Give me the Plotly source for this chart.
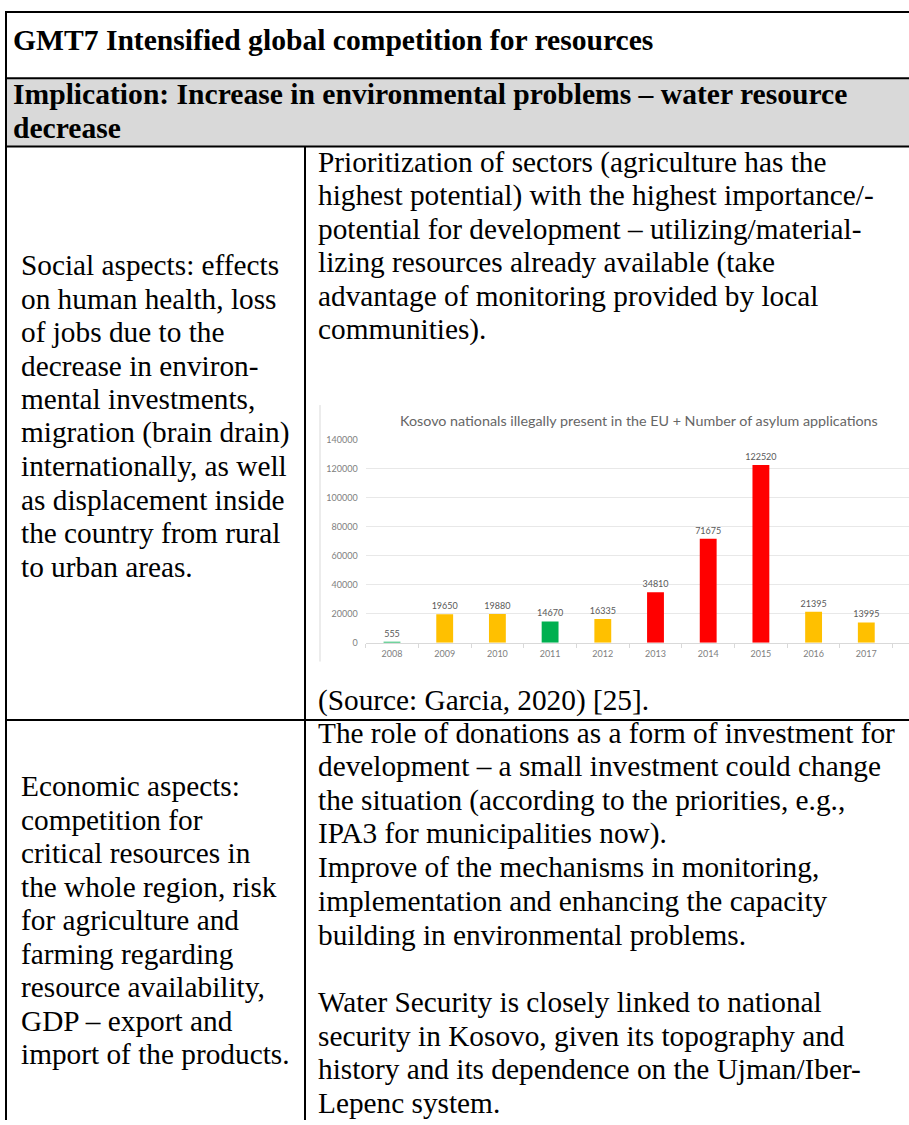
import plotly.graph_objects as go

W, H = 909, 1125

# ---- chart data -------------------------------------------------------
years = ["2008", "2009", "2010", "2011", "2012", "2013", "2014", "2015", "2016", "2017"]
persons = [555, 19650, 19880, 14670, 16335, 34810, 71675, 122520, 21395, 13995]
bar_colors = ["#00B050", "#FFC000", "#FFC000", "#00B050", "#FFC000",
              "#FF0000", "#FF0000", "#FF0000", "#FFC000", "#FFC000"]
y_ticks = [0, 20000, 40000, 60000, 80000, 100000, 120000, 140000]
chart_title = "Kosovo nationals illegally present in the EU + Number of asylum applications"

# ---- table text -------------------------------------------------------
header_title = "GMT7 Intensified global competition for resources"
implication_lines = [
    "Implication: Increase in environmental problems \u2013 water resource",
    "decrease",
]
social_lines = [
    "Social aspects: effects",
    "on human health, loss",
    "of jobs due to the",
    "decrease in environ-",
    "mental investments,",
    "migration (brain drain)",
    "internationally, as well",
    "as displacement inside",
    "the country from rural",
    "to urban areas.",
]
priority_lines = [
    "Prioritization of sectors (agriculture has the",
    "highest potential) with the highest importance/-",
    "potential for development \u2013 utilizing/material-",
    "lizing resources already available (take",
    "advantage of monitoring provided by local",
    "communities).",
]
source_line = "(Source: Garcia, 2020) [25]."
economic_lines = [
    "Economic aspects:",
    "competition for",
    "critical resources in",
    "the whole region, risk",
    "for agriculture and",
    "farming regarding",
    "resource availability,",
    "GDP \u2013 export and",
    "import of the products.",
]
donation_lines = [
    "The role of donations as a form of investment for",
    "development \u2013 a small investment could change",
    "the situation (according to the priorities, e.g.,",
    "IPA3 for municipalities now).",
    "Improve of the mechanisms in monitoring,",
    "implementation and enhancing the capacity",
    "building in environmental problems.",
    "",
    "Water Security is closely linked to national",
    "security in Kosovo, given its topography and",
    "history and its dependence on the Ujman/Iber-",
    "Lepenc system.",
]


def px(x):
    return x / W


def py(y):
    return 1 - y / H


SERIF = "Liberation Serif, Times New Roman, serif"
SANS = "Lato, Open Sans, sans-serif"
BODY = 29.3
annotations = []


def text_block(lines, x, y0, step, bold=False, size=BODY):
    for i, line in enumerate(lines):
        if not line:
            continue
        annotations.append(dict(
            x=px(x), y=py(y0 + i * step), xref="paper", yref="paper",
            xanchor="left", yanchor="middle", showarrow=False, text=line,
            font=dict(family=SERIF, size=size, color="#000000",
                      weight="bold" if bold else "normal"),
        ))


text_block([header_title], 11, 34, 0, bold=True, size=29.6)
text_block(implication_lines, 11, 88.5, 35, bold=True, size=29.6)
text_block(social_lines, 19, 262, 33.8)
text_block(priority_lines, 316, 158, 33.8)
text_block([source_line], 316, 701, 0)
text_block(donation_lines, 316, 734, 34)
text_block(economic_lines, 19, 788, 33.8)

# chart title
annotations.append(dict(
    x=px(638.5), y=py(419), xref="paper", yref="paper",
    xanchor="center", yanchor="middle", showarrow=False, text=chart_title,
    font=dict(family=SANS, size=14.3, color="#666666"),
))

# ---- table grid -------------------------------------------------------
def hline(y, x0=6, x1=W, color="#000000", width=2):
    return dict(type="line", xref="paper", yref="paper",
                x0=px(x0), x1=px(x1), y0=py(y), y1=py(y),
                line=dict(color=color, width=width))


def vline(x, y0, y1, color="#000000", width=2):
    return dict(type="line", xref="paper", yref="paper",
                x0=px(x), x1=px(x), y0=py(y0), y1=py(y1),
                line=dict(color=color, width=width))


shapes = [
    dict(type="rect", xref="paper", yref="paper", layer="below",
         x0=px(6), x1=1, y0=py(142), y1=py(73),
         fillcolor="#d9d9d9", line=dict(width=0)),
    hline(6), hline(73), hline(142), hline(721),
    vline(6, 5, H), vline(305, 142, H),
    vline(320, 403, 662, color="#d9d9d9", width=1),
]

# ---- bar chart --------------------------------------------------------
x_left = 392 - 52.7 / 2
x_max = (W - 392) / 52.7

fig = go.Figure(go.Bar(
    x=years, y=persons, width=0.32,
    marker=dict(color=bar_colors, line=dict(width=0)),
    text=[str(v) for v in persons], textposition="outside",
    constraintext="none",
    textfont=dict(family=SANS, size=9, color="#595959"),
    cliponaxis=False,
))

fig.update_layout(
    width=W, height=H,
    margin=dict(l=0, r=0, t=0, b=0),
    paper_bgcolor="#ffffff", plot_bgcolor="#ffffff",
    showlegend=False,
    shapes=shapes,
    annotations=annotations,
    xaxis=dict(
        domain=[px(x_left), 1], range=[-0.5, x_max], type="category",
        showline=True, linecolor="#d9d9d9", linewidth=1,
        ticks="outside", tickson="boundaries", ticklen=4, tickcolor="#d9d9d9",
        ticklabelstandoff=2,
        showgrid=False, tickfont=dict(family=SANS, size=9, color="#808080"),
        fixedrange=True,
    ),
    yaxis=dict(
        domain=[py(643), py(438)], range=[0, 140000],
        tickvals=y_ticks, ticktext=[str(v) for v in y_ticks],
        showgrid=True, gridcolor="#e8e8e8", gridwidth=1,
        zeroline=False, showline=False, ticks="",
        ticklabelstandoff=7,
        tickfont=dict(family=SANS, size=9, color="#808080"),
        fixedrange=True,
    ),
)

fig.write_html("out.html")
